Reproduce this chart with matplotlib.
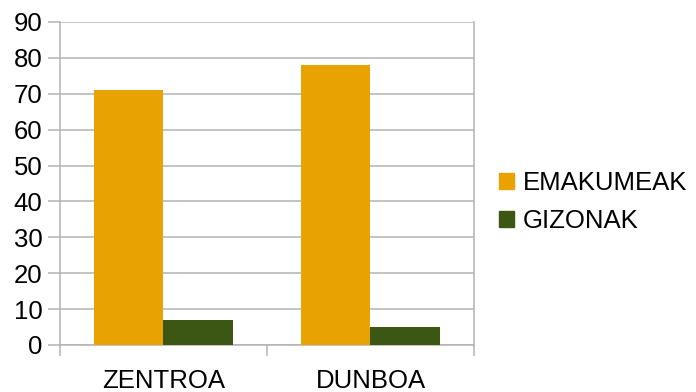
import matplotlib.pyplot as plt
import numpy as np
from matplotlib.patches import Patch

plt.rcParams['font.family'] = ['Liberation Sans', 'DejaVu Sans']

categories = ['ZENTROA', 'DUNBOA']
series_names = ['EMAKUMEAK', 'GIZONAK']
emakumeak = [71, 78]
gizonak = [7, 5]
colors = ['#e8a202', '#3c5614']
grid_color = '#b3b3b3'

fig = plt.figure(figsize=(6.96, 3.92), dpi=100)
ax = fig.add_axes([0.0862, 0.1199, 0.5948, 0.824])

x = np.arange(len(categories))
w = 0.336
ax.bar(x - w / 2, emakumeak, w, color=colors[0], zorder=3)
ax.bar(x + w / 2, gizonak, w, color=colors[1], zorder=3)

ax.set_xlim(-0.5, len(categories) - 0.5)
ax.set_ylim(0, 90)
ax.set_yticks(np.arange(0, 91, 10))
ax.yaxis.grid(True, color=grid_color, lw=1.1, zorder=0)
ax.tick_params(axis='y', length=8.6, color=grid_color, width=1.1, pad=4, labelsize=18.5)

# category separators as major ticks, names as minor ticks
ax.set_xticks(np.arange(-0.5, len(categories), 1))
ax.set_xticklabels([])
ax.tick_params(axis='x', which='major', length=8, color=grid_color, width=1.1)
ax.set_xticks(x, minor=True)
ax.set_xticklabels(categories, minor=True)
ax.tick_params(axis='x', which='minor', length=0, pad=17, labelsize=18.5)

for side in ['left', 'right', 'bottom']:
    ax.spines[side].set_color(grid_color)
    ax.spines[side].set_linewidth(1.1)
ax.spines['top'].set_visible(False)

handles = [Patch(color=c, label=n) for c, n in zip(colors, series_names)]
fig.legend(handles=handles, loc='center left', bbox_to_anchor=(0.698, 0.484),
           frameon=False, fontsize=18.5, handlelength=0.6, handleheight=0.6,
           handletextpad=0.35, labelspacing=0.55, borderpad=0)

fig.savefig('out.png', dpi=100)
